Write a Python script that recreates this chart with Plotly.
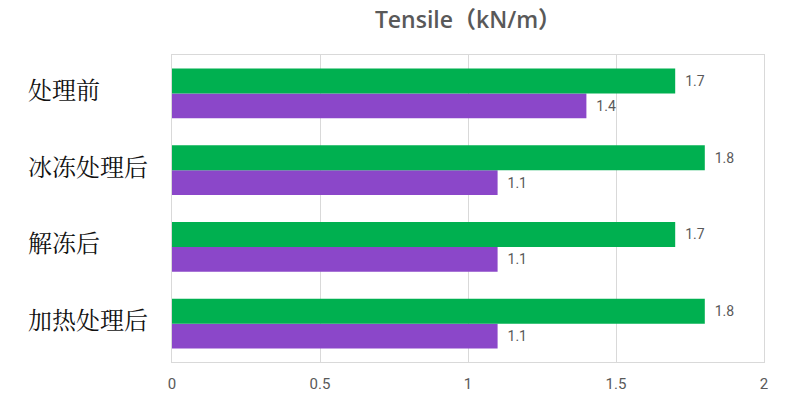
import plotly.graph_objects as go

categories = ["处理前", "冰冻处理后", "解冻后", "加热处理后"]
series_green = [1.7, 1.8, 1.7, 1.8]
series_purple = [1.4, 1.1, 1.1, 1.1]
x_ticks = [0, 0.5, 1, 1.5, 2]
x_tick_labels = ["0", "0.5", "1", "1.5", "2"]
title_text = "Tensile（kN/m）"

GREEN = "#00B050"
PURPLE = "#8B47C9"
GRAY = "#595959"

fig = go.Figure()
# purple first (lower offset within group), green second (upper)
for vals, col in [(series_purple, PURPLE), (series_green, GREEN)]:
    fig.add_trace(go.Bar(
        y=categories, x=vals, orientation="h",
        marker=dict(color=col, line=dict(width=0)),
        texttemplate="\u00a0\u00a0%{x}", textposition="outside",
        textfont=dict(family="Roboto, Arial, sans-serif", size=14, color=GRAY),
        cliponaxis=False, showlegend=False,
    ))

for c in categories:
    fig.add_annotation(
        x=0, xref="paper", y=c, yref="y", xanchor="left", yanchor="middle",
        xshift=-146, yshift=5, text=c, showarrow=False,
        font=dict(family="Noto Serif CJK SC, Noto Sans CJK SC, serif", size=24, color="#111111"),
    )

fig.update_layout(
    width=800, height=408,
    margin=dict(l=172, r=36, t=55, b=46),
    paper_bgcolor="white", plot_bgcolor="white",
    barmode="group", bargap=0.35, bargroupgap=0,
    title=dict(text=title_text, x=(172 + 764) / 2 / 800, xanchor="center",
               y=1 - 20 / 408, yanchor="middle",
               font=dict(family="Open Sans, Noto Sans CJK SC, sans-serif", size=23, color=GRAY, weight=600)),
    xaxis=dict(range=[0, 2], tickvals=x_ticks, ticktext=x_tick_labels,
               showgrid=True, gridcolor="#D9D9D9", gridwidth=1,
               showline=True, linecolor="#D9D9D9", linewidth=1, mirror=True,
               zeroline=False, ticks="", ticklabelstandoff=8,
               tickfont=dict(family="Roboto, Arial, sans-serif", size=15, color=GRAY)),
    yaxis=dict(categoryorder="array", categoryarray=list(reversed(categories)),
               showticklabels=False, showgrid=False, showline=True,
               linecolor="#D9D9D9", linewidth=1, mirror=True, ticks="", zeroline=False),
)

fig.write_html("out.html")
